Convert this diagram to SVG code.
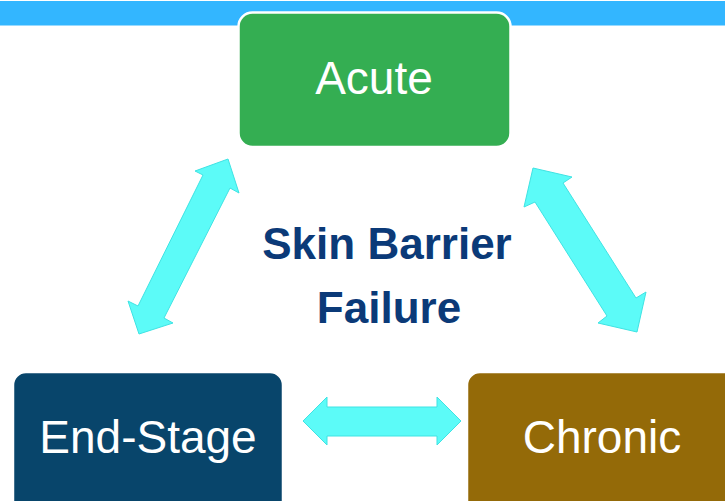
<svg xmlns="http://www.w3.org/2000/svg" width="725" height="501" viewBox="0 0 725 501">
<defs>
<style>
.box{stroke:#ffffff;stroke-width:2.5}
.lbl{font-family:"Liberation Sans",Arial,sans-serif;font-size:46px;fill:#ffffff;text-anchor:middle}
.arr{fill:#5cfbf8;stroke:#3fe3e3;stroke-width:1}
.title{font-family:"Liberation Sans",Arial,sans-serif;font-size:44px;font-weight:bold;fill:#0b3a78;text-anchor:middle}
</style>
</defs>
<rect x="0" y="1" width="725" height="24.5" fill="#33b6ff"/>
<g id="connectors">
<polygon class="arr" points="228,159 239,193 230,188 164,318 173,323 139,334 128,301 138,306 203,175 195,171"/>
<polygon class="arr" points="533,168 572,177 563,183 636,298 646,292 637,332 598,323 607,316 535,202 524,207"/>
<polygon class="arr" points="303,421 327,397 327,407 437,407 437,397 461,421 437,445 437,436 327,436 327,445"/>
</g>
<g id="acute">
<rect class="box" x="238.5" y="12.5" width="272" height="134.5" rx="14" fill="#34ae52"/>
<text class="lbl" x="374" y="94">Acute</text>
</g>
<g id="end-stage">
<rect class="box" x="13" y="372" width="270" height="150" rx="13" fill="#08456b"/>
<text class="lbl" x="148" y="453">End-Stage</text>
</g>
<g id="chronic">
<rect class="box" x="467" y="372" width="280" height="150" rx="13" fill="#946a08"/>
<text class="lbl" x="602" y="453">Chronic</text>
</g>
<g id="center">
<text class="title" x="387" y="259">Skin Barrier</text>
<text class="title" x="389" y="323">Failure</text>
</g>
</svg>
